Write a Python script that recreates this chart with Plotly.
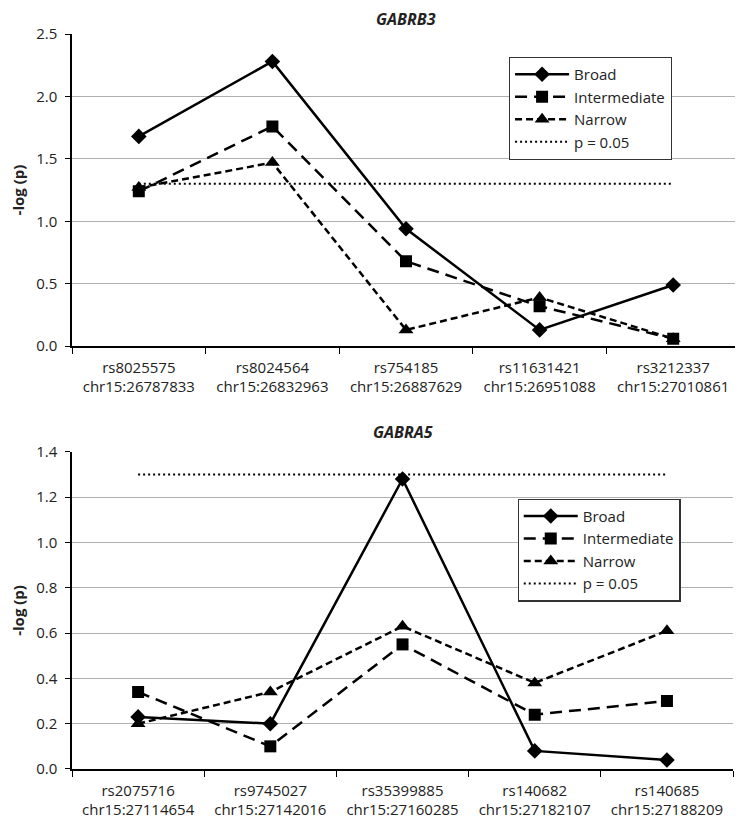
import plotly.graph_objects as go
from plotly.subplots import make_subplots

top_title = "GABRB3"
top_cats = ["rs8025575<br>chr15:26787833", "rs8024564<br>chr15:26832963", "rs754185<br>chr15:26887629",
            "rs11631421<br>chr15:26951088", "rs3212337<br>chr15:27010861"]
top_broad = [1.68, 2.28, 0.94, 0.13, 0.49]
top_intermediate = [1.24, 1.76, 0.68, 0.32, 0.06]
top_narrow = [1.27, 1.47, 0.13, 0.39, 0.06]

bot_title = "GABRA5"
bot_cats = ["rs2075716<br>chr15:27114654", "rs9745027<br>chr15:27142016", "rs35399885<br>chr15:27160285",
            "rs140682<br>chr15:27182107", "rs140685<br>chr15:27188209"]
bot_broad = [0.23, 0.20, 1.28, 0.08, 0.04]
bot_intermediate = [0.34, 0.10, 0.55, 0.24, 0.30]
bot_narrow = [0.20, 0.34, 0.63, 0.38, 0.61]

p_threshold = 1.30
series_names = ["Broad", "Intermediate", "Narrow", "p = 0.05"]

FONT = "Open Sans"
TXT = "#222222"

fig = make_subplots(rows=2, cols=1)

def add_panel(row, cats, broad, inter, narrow, legend):
    fig.add_trace(go.Scatter(x=cats, y=broad, name=series_names[0], mode="lines+markers",
                             line=dict(color="black", width=2.5, dash="solid"),
                             marker=dict(symbol="diamond", size=12, color="black"),
                             legend=legend), row=row, col=1)
    fig.add_trace(go.Scatter(x=cats, y=inter, name=series_names[1], mode="lines+markers",
                             line=dict(color="black", width=2.5, dash="12px,7px"),
                             marker=dict(symbol="square", size=12, color="black"),
                             legend=legend), row=row, col=1)
    fig.add_trace(go.Scatter(x=cats, y=narrow, name=series_names[2], mode="lines+markers",
                             line=dict(color="black", width=2.5, dash="7px,4px"),
                             marker=dict(symbol="triangle-up", size=13, color="black"),
                             legend=legend), row=row, col=1)
    fig.add_trace(go.Scatter(x=cats, y=[p_threshold] * len(cats), name=series_names[3], mode="lines",
                             line=dict(color="black", width=2, dash="2px,3px"),
                             legend=legend), row=row, col=1)

add_panel(1, top_cats, top_broad, top_intermediate, top_narrow, "legend")
add_panel(2, bot_cats, bot_broad, bot_intermediate, bot_narrow, "legend2")

fig.update_xaxes(type="category", tickson="boundaries", ticks="outside", ticklen=6,
                 tickcolor="black", showgrid=False, range=[-0.5, 4.5],
                 showline=True, linecolor="black", linewidth=1.5, ticklabelstandoff=7,
                 tickfont=dict(family=FONT, size=15, color=TXT))
fig.update_yaxes(showgrid=True, gridcolor="#b0b0b0", gridwidth=1.2, ticks="outside",
                 ticklen=5, tickcolor="black", zeroline=False, ticklabelstandoff=5,
                 showline=True, linecolor="black", linewidth=1.5,
                 tickfont=dict(family=FONT, size=15, color=TXT),
                 title=dict(text="<b>-log (p)</b>", font=dict(family=FONT, size=15, color=TXT), standoff=15))

fig.update_yaxes(range=[0, 2.5], dtick=0.5, tickformat=".1f", row=1, col=1)
fig.update_yaxes(range=[0, 1.4], dtick=0.2, tickformat=".1f", row=2, col=1)

legend_style = dict(xanchor="left", yanchor="top", bgcolor="white",
                    bordercolor="#333", borderwidth=1.2, font=dict(family=FONT, size=15, color=TXT),
                    itemwidth=54, tracegroupgap=0)

fig.update_layout(
    width=735, height=814,
    margin=dict(l=62, r=3, t=26, b=51),
    paper_bgcolor="white", plot_bgcolor="white",
    font=dict(family=FONT, color=TXT),
    xaxis=dict(domain=[0, 1]),
    xaxis2=dict(domain=[0, 0.9896]),
    yaxis=dict(domain=[0.5753, 1]),
    yaxis2=dict(domain=[0, 0.4315]),
    legend=dict(x=0.654, y=0.969, **legend_style),
    legend2=dict(x=0.667, y=0.368, **legend_style),
    showlegend=True,
    annotations=[
        dict(text="<b><i>" + top_title + "</i></b>", x=0.5, xref="paper", y=1.0, yref="paper",
             yanchor="middle", yshift=15, showarrow=False, font=dict(family=FONT, size=16, color=TXT)),
        dict(text="<b><i>" + bot_title + "</i></b>", x=0.4948, xref="paper", y=0.4315, yref="paper",
             yanchor="middle", yshift=20, showarrow=False, font=dict(family=FONT, size=16, color=TXT)),
    ],
)

fig.write_html("out.html")
